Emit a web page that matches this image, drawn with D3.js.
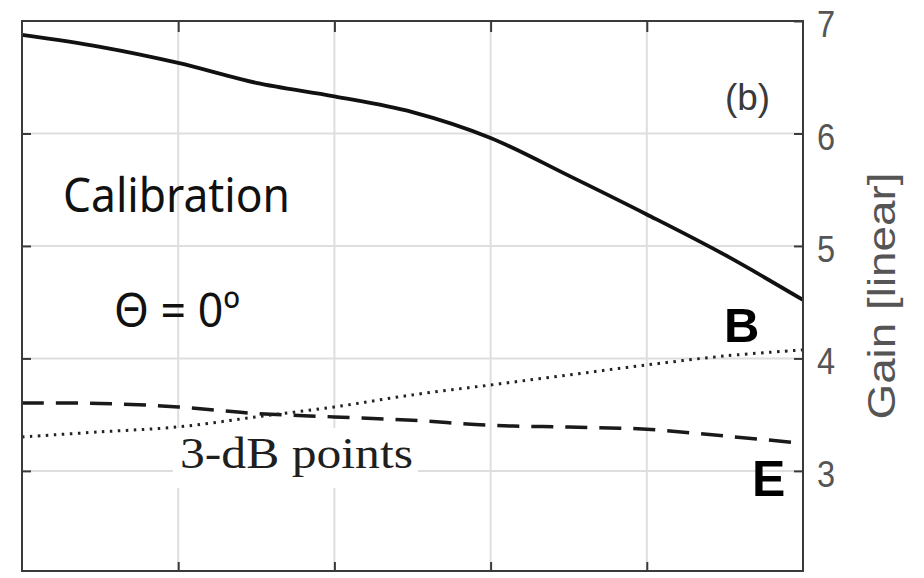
<!DOCTYPE html>
<html>
<head>
<meta charset="utf-8">
<script src="https://cdn.jsdelivr.net/npm/d3@7"></script>
<style>
  body { margin: 0; background: #fff; }
  svg { display: block; }
</style>
</head>
<body>
<div id="vis"></div>
<script>
// values (x in grid units, gain linear)
const xVals   = [0, 0.5, 1, 1.5, 2, 2.5, 3, 3.5, 4, 4.5, 5]
const gainVals = [6.876, 6.77, 6.627, 6.45, 6.33, 6.19, 5.96, 5.625, 5.28, 4.92, 4.52]
const bVals    = [3.302, 3.347, 3.391, 3.48, 3.569, 3.676, 3.764, 3.853, 3.942, 4.022, 4.076]
const eVals    = [3.604, 3.60, 3.569, 3.51, 3.48, 3.45, 3.405, 3.39, 3.37, 3.31, 3.245]
const xTicks = [0, 1, 2, 3, 4, 5]
const yTicks = [3, 4, 5, 6, 7]

const W = 924, H = 578
const margin = { left: 22, top: 21, right: 121, bottom: 7 }

const svg = d3.select('#vis').append('svg')
  .attr('width', W)
  .attr('height', H)

const x = d3.scaleLinear().domain([0, 5]).range([margin.left, W - margin.right])
const y = d3.scaleLinear().domain([2.11, 7]).range([H - margin.bottom, margin.top])

// gridlines
const grid = svg.append('g').attr('class', 'grid')
grid.selectAll('.vgrid')
  .data(xTicks.slice(1, -1))
  .enter().append('line')
  .attr('x1', d => x(d)).attr('x2', d => x(d))
  .attr('y1', y.range()[0]).attr('y2', y.range()[1])
  .attr('stroke', '#dedede').attr('stroke-width', 2)
grid.selectAll('.hgrid')
  .data(yTicks.slice(0, -1))
  .enter().append('line')
  .attr('x1', x.range()[0]).attr('x2', x.range()[1])
  .attr('y1', d => y(d)).attr('y2', d => y(d))
  .attr('stroke', '#dedede').attr('stroke-width', 2)

// white box behind the 3-dB label
svg.append('rect')
  .attr('x', 173).attr('y', 428)
  .attr('width', 245).attr('height', 60)
  .attr('fill', '#fff')

// curves
const line = vals => d3.line()
  .x((d, i) => x(xVals[i]))
  .y(d => y(d))
  .curve(d3.curveCatmullRom.alpha(0.5))(vals)

svg.append('path').attr('d', line(eVals))
  .attr('fill', 'none').attr('stroke', '#1a1a1a')
  .attr('stroke-width', 3.5).attr('stroke-dasharray', '22,12')

svg.append('path').attr('d', line(bVals))
  .attr('fill', 'none').attr('stroke', '#222')
  .attr('stroke-width', 3).attr('stroke-dasharray', '2.5,5.5')

svg.append('path').attr('d', line(gainVals))
  .attr('fill', 'none').attr('stroke', '#111')
  .attr('stroke-width', 3.8)

// axes with inward ticks on all four sides
const axisColor = '#3a3a3a'
function styleAxis(g) {
  g.select('.domain').remove()
  g.selectAll('.tick line').attr('stroke', axisColor).attr('stroke-width', 2)
}
svg.append('g').attr('transform', `translate(${x.range()[0]},0)`)
  .call(d3.axisLeft(y).tickValues(yTicks.slice(0, -1)).tickSize(-9).tickFormat(''))
  .call(styleAxis)
svg.append('g').attr('transform', `translate(0,${y.range()[1]})`)
  .call(d3.axisTop(x).tickValues(xTicks.slice(1, -1)).tickSize(-11).tickFormat(''))
  .call(styleAxis)
svg.append('g').attr('transform', `translate(0,${y.range()[0]})`)
  .call(d3.axisBottom(x).tickValues(xTicks.slice(1, -1)).tickSize(-9).tickFormat(''))
  .call(styleAxis)
const right = svg.append('g').attr('transform', `translate(${x.range()[1]},0)`)
  .call(d3.axisRight(y).tickValues(yTicks).tickSize(-9).tickPadding(14).tickFormat(d3.format('d')))
  .call(styleAxis)
right.selectAll('.tick text')
  .attr('fill', '#555')
  .attr('font-family', 'Liberation Sans, Arial, sans-serif')
  .attr('font-size', 37)
  .attr('dy', '0.42em')
  .attr('transform', 'scale(0.88,1)')
  .attr('x', 14 / 0.88)

// frame
svg.append('rect')
  .attr('x', x.range()[0]).attr('y', y.range()[1])
  .attr('width', x.range()[1] - x.range()[0])
  .attr('height', y.range()[0] - y.range()[1])
  .attr('fill', 'none').attr('stroke', axisColor).attr('stroke-width', 2)

// axis title
svg.append('text')
  .attr('transform', `translate(895,296) rotate(-90)`)
  .attr('text-anchor', 'middle')
  .attr('font-family', 'Liberation Sans, Arial, sans-serif')
  .attr('font-size', 38)
  .attr('fill', '#555')
  .attr('textLength', 247)
  .attr('lengthAdjust', 'spacingAndGlyphs')
  .text('Gain [linear]')

// annotations
svg.append('text')
  .attr('x', 725).attr('y', 110)
  .attr('font-family', 'Liberation Sans, Arial, sans-serif')
  .attr('font-size', 37).attr('fill', '#3a3a3a')
  .attr('textLength', 45).attr('lengthAdjust', 'spacingAndGlyphs')
  .text('(b)')

svg.append('text')
  .attr('x', 63).attr('y', 212)
  .attr('font-family', 'Noto Sans, Open Sans, sans-serif')
  .attr('font-size', 48).attr('fill', '#111')
  .attr('textLength', 227).attr('lengthAdjust', 'spacingAndGlyphs')
  .text('Calibration')

svg.append('text')
  .attr('x', 114).attr('y', 327)
  .attr('font-family', 'Noto Sans, Open Sans, sans-serif')
  .attr('font-size', 48).attr('fill', '#111')
  .attr('textLength', 126).attr('lengthAdjust', 'spacingAndGlyphs')
  .text('\u0398 = 0\u00ba')

svg.append('text')
  .attr('x', 180).attr('y', 468)
  .attr('font-family', 'Liberation Serif, Times New Roman, serif')
  .attr('font-size', 45).attr('fill', '#1f1f1f')
  .attr('textLength', 233).attr('lengthAdjust', 'spacingAndGlyphs')
  .text('3-dB points')

svg.append('text')
  .attr('x', 724).attr('y', 342)
  .attr('font-family', 'Liberation Sans, Arial, sans-serif')
  .attr('font-weight', 'bold')
  .attr('font-size', 49).attr('fill', '#000')
  .text('B')

svg.append('text')
  .attr('x', 752).attr('y', 496)
  .attr('font-family', 'Liberation Sans, Arial, sans-serif')
  .attr('font-weight', 'bold')
  .attr('font-size', 50).attr('fill', '#000')
  .text('E')
</script>
</body>
</html>
